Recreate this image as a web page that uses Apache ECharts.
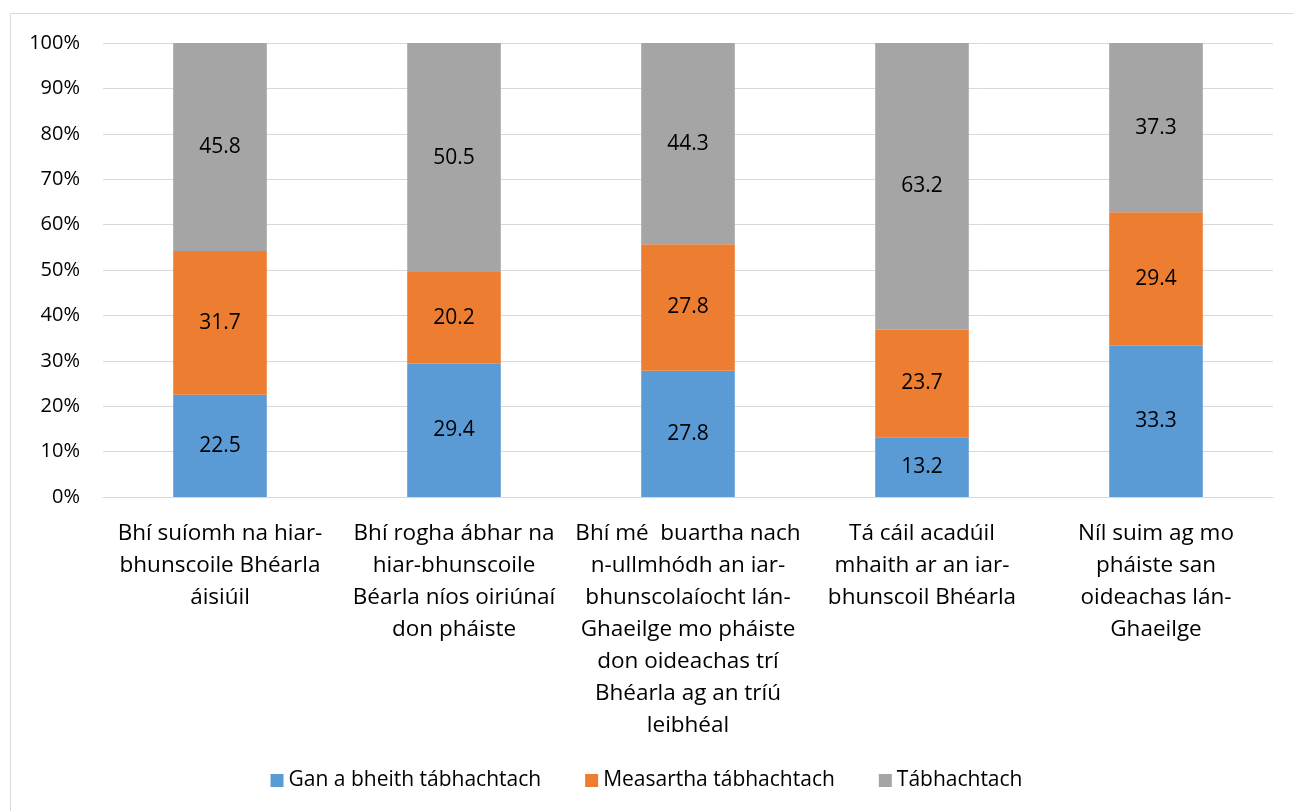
<!DOCTYPE html>
<html>
<head>
<meta charset="utf-8">
<script src="https://cdn.jsdelivr.net/npm/echarts@6/dist/echarts.min.js"></script>
<style>
  html, body { margin: 0; padding: 0; background: #fff; }
  #chart { width: 1293px; height: 811px; }
</style>
</head>
<body>
<div id="chart"></div>
<script>
// categories (line breaks as in the original)
const categories = [
  'Bhí suíomh na hiar-\nbhunscoile Bhéarla\náisiúil',
  'Bhí rogha ábhar na\nhiar-bhunscoile\nBéarla níos oiriúnaí\ndon pháiste',
  'Bhí mé  buartha nach\nn-ullmhódh an iar-\nbhunscolaíocht lán-\nGhaeilge mo pháiste\ndon oideachas trí\nBhéarla ag an tríú\nleibhéal',
  'Tá cáil acadúil\nmhaith ar an iar-\nbhunscoil Bhéarla',
  'Níl suim ag mo\npháiste san\noideachas lán-\nGhaeilge'
]
const seriesNames = ['Gan a bheith tábhachtach', 'Measartha tábhachtach', 'Tábhachtach']
const notImportant = [22.5, 29.4, 27.8, 13.2, 33.3]
const moderate = [31.7, 20.2, 27.8, 23.7, 29.4]
const important = [45.8, 50.5, 44.3, 63.2, 37.3]
const colors = ['#5B9BD5', '#ED7D31', '#A5A5A5']

const FONT = 'Open Sans'
const raw = [notImportant, moderate, important]
// 100% stacked: share of each category total
const totals = categories.map((c, i) => raw.reduce((s, arr) => s + arr[i], 0))

const chart = echarts.init(document.getElementById('chart'))
const option = {
  animation: false,
  textStyle: { fontFamily: FONT },
  graphic: [{
    type: 'rect',
    shape: { x: 10.5, y: 13.5, width: 1300, height: 820 },
    style: { fill: 'none', stroke: '#d9d9d9', lineWidth: 1 },
    silent: true
  }],
  grid: { left: 103, right: 20, top: 43, bottom: 314 },
  legend: {
    bottom: 15,
    left: 'center',
    itemWidth: 13,
    itemHeight: 13,
    itemGap: 44,
    icon: 'rect',
    textStyle: { fontFamily: FONT, fontSize: 21, color: '#000' },
    data: seriesNames
  },
  xAxis: {
    type: 'category',
    data: categories,
    axisLine: { lineStyle: { color: '#d9d9d9' } },
    axisTick: { show: false },
    axisLabel: {
      interval: 0,
      margin: 21,
      fontSize: 22.5,
      lineHeight: 32,
      color: '#000',
      fontFamily: FONT,
      align: 'center'
    }
  },
  yAxis: {
    type: 'value',
    min: 0,
    max: 100,
    interval: 10,
    axisLabel: { formatter: '{value}%', fontSize: 20, color: '#000', margin: 23, fontFamily: FONT },
    splitLine: { lineStyle: { color: '#d9d9d9' } },
    axisLine: { show: false },
    axisTick: { show: false }
  },
  series: raw.map((arr, k) => ({
    name: seriesNames[k],
    type: 'bar',
    stack: 'total',
    barWidth: '40%',
    itemStyle: { color: colors[k] },
    label: {
      show: true,
      position: 'inside',
      fontSize: 21,
      color: '#000',
      fontFamily: FONT,
      formatter: p => arr[p.dataIndex].toFixed(1)
    },
    data: arr.map((v, i) => v / totals[i] * 100)
  }))
}
chart.setOption(option)
</script>
</body>
</html>
